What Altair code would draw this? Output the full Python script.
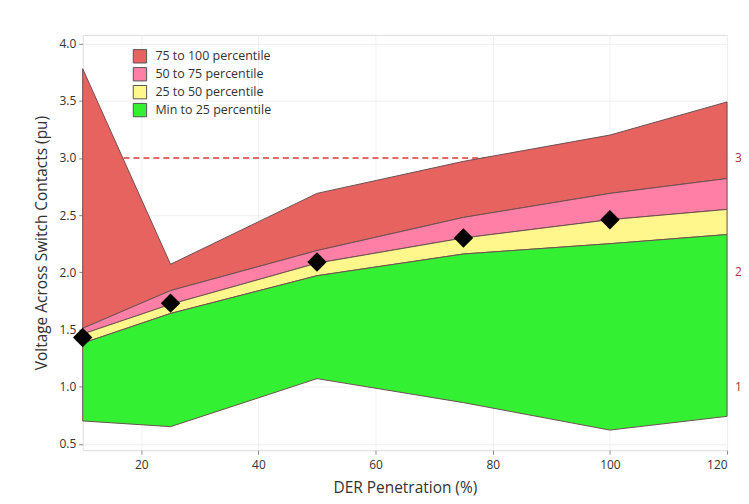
import altair as alt
import pandas as pd

# Data
der = [10, 25, 50, 75, 100, 120]
v_min = [0.70, 0.65, 1.07, 0.86, 0.62, 0.74]
v_p25 = [1.38, 1.64, 1.97, 2.16, 2.25, 2.33]
v_p50 = [1.46, 1.72, 2.08, 2.30, 2.46, 2.55]
v_p75 = [1.51, 1.84, 2.19, 2.48, 2.69, 2.82]
v_max = [3.78, 2.07, 2.69, 2.97, 3.20, 3.49]

mean_x = [10, 25, 50, 75, 100]
mean_v = [1.43, 1.73, 2.09, 2.30, 2.46]

bands = ["75 to 100 percentile", "50 to 75 percentile", "25 to 50 percentile", "Min to 25 percentile"]
band_colors = ["#e66360", "#ff7fa6", "#fff68c", "#33f033"]
limit_value = 3.0
right_labels = [1, 2, 3]

lows = [v_p75, v_p50, v_p25, v_min]
highs = [v_max, v_p75, v_p50, v_p25]
rows = []
for b, lo, hi in zip(bands, lows, highs):
    for x, l, h in zip(der, lo, hi):
        rows.append({"der": x, "lo": l, "hi": h, "band": b})
band_df = pd.DataFrame(rows)
mean_df = pd.DataFrame({"der": mean_x, "v": mean_v})
limit_df = pd.DataFrame({"v": [limit_value]})
right_df = pd.DataFrame({"v": right_labels, "lab": [str(r) for r in right_labels]})

W, H = 647, 417
FONT = "Open Sans"

xscale = alt.Scale(domain=[10, 120], nice=False, zero=False)
yscale = alt.Scale(domain=[0.444, 4.076], nice=False, zero=False)

xaxis = alt.Axis(values=[20, 40, 60, 80, 100, 120], title="DER Penetration (%)",
                 labelFontSize=12, labelColor="#333", titleFontSize=15.5, titleColor="#333",
                 titleFontWeight="normal", tickSize=4, tickColor="#888", domain=False,
                 gridColor="#f0f0f0", labelPadding=5, titlePadding=10, labelFont=FONT, titleFont=FONT)
yaxis = alt.Axis(values=[0.5, 1.0, 1.5, 2.0, 2.5, 3.0, 3.5, 4.0], format=".1f",
                 title="Voltage Across Switch Contacts (pu)",
                 labelFontSize=12, labelColor="#333", titleFontSize=15.5, titleColor="#333",
                 titleFontWeight="normal", tickSize=4, tickColor="#888", domain=False,
                 gridColor="#f0f0f0", labelPadding=3, titlePadding=9, labelFont=FONT, titleFont=FONT)

rule = alt.Chart(limit_df).mark_rule(color="#e03a3a", strokeDash=[6, 4], strokeWidth=1.5).encode(
    y=alt.Y("v:Q", scale=yscale, axis=yaxis),
)

areas = alt.Chart(band_df).mark_area(stroke="#6d5050", strokeWidth=1, opacity=1).encode(
    x=alt.X("der:Q", scale=xscale, axis=xaxis),
    y=alt.Y("lo:Q", scale=yscale, axis=yaxis),
    y2="hi:Q",
    color=alt.Color("band:N", scale=alt.Scale(domain=bands, range=band_colors),
                    sort=bands,
                    legend=alt.Legend(title=None, orient="none", legendX=50, legendY=14,
                                      symbolType="square", symbolSize=180, symbolStrokeColor="#555",
                                      symbolStrokeWidth=1, symbolOpacity=1, labelFontSize=12.5,
                                      labelColor="#333", labelFont=FONT, rowPadding=-1,
                                      labelOffset=8, padding=0)),
    order=alt.Order("band:N"),
)

points = alt.Chart(mean_df).mark_point(shape="diamond", filled=True, color="black", size=380,
                                       opacity=1, clip=False).encode(
    x=alt.X("der:Q", scale=xscale),
    y=alt.Y("v:Q", scale=yscale),
)

rtext = alt.Chart(right_df).mark_text(color="#b0303a", fontSize=12, font=FONT, align="left",
                                      baseline="middle", clip=False).encode(
    x=alt.value(W + 8),
    y=alt.Y("v:Q", scale=yscale),
    text="lab:N",
)

chart = alt.layer(rule, areas, points, rtext).properties(
    width=W, height=H,
    autosize=alt.AutoSizeParams(type="none"),
    padding={"left": 75, "top": 26, "right": 14, "bottom": 52},
).configure_view(stroke="#a0a0a0", strokeWidth=1.5).configure(background="white")

chart.save("out.html", embed_options={"renderer": "svg", "actions": False})
